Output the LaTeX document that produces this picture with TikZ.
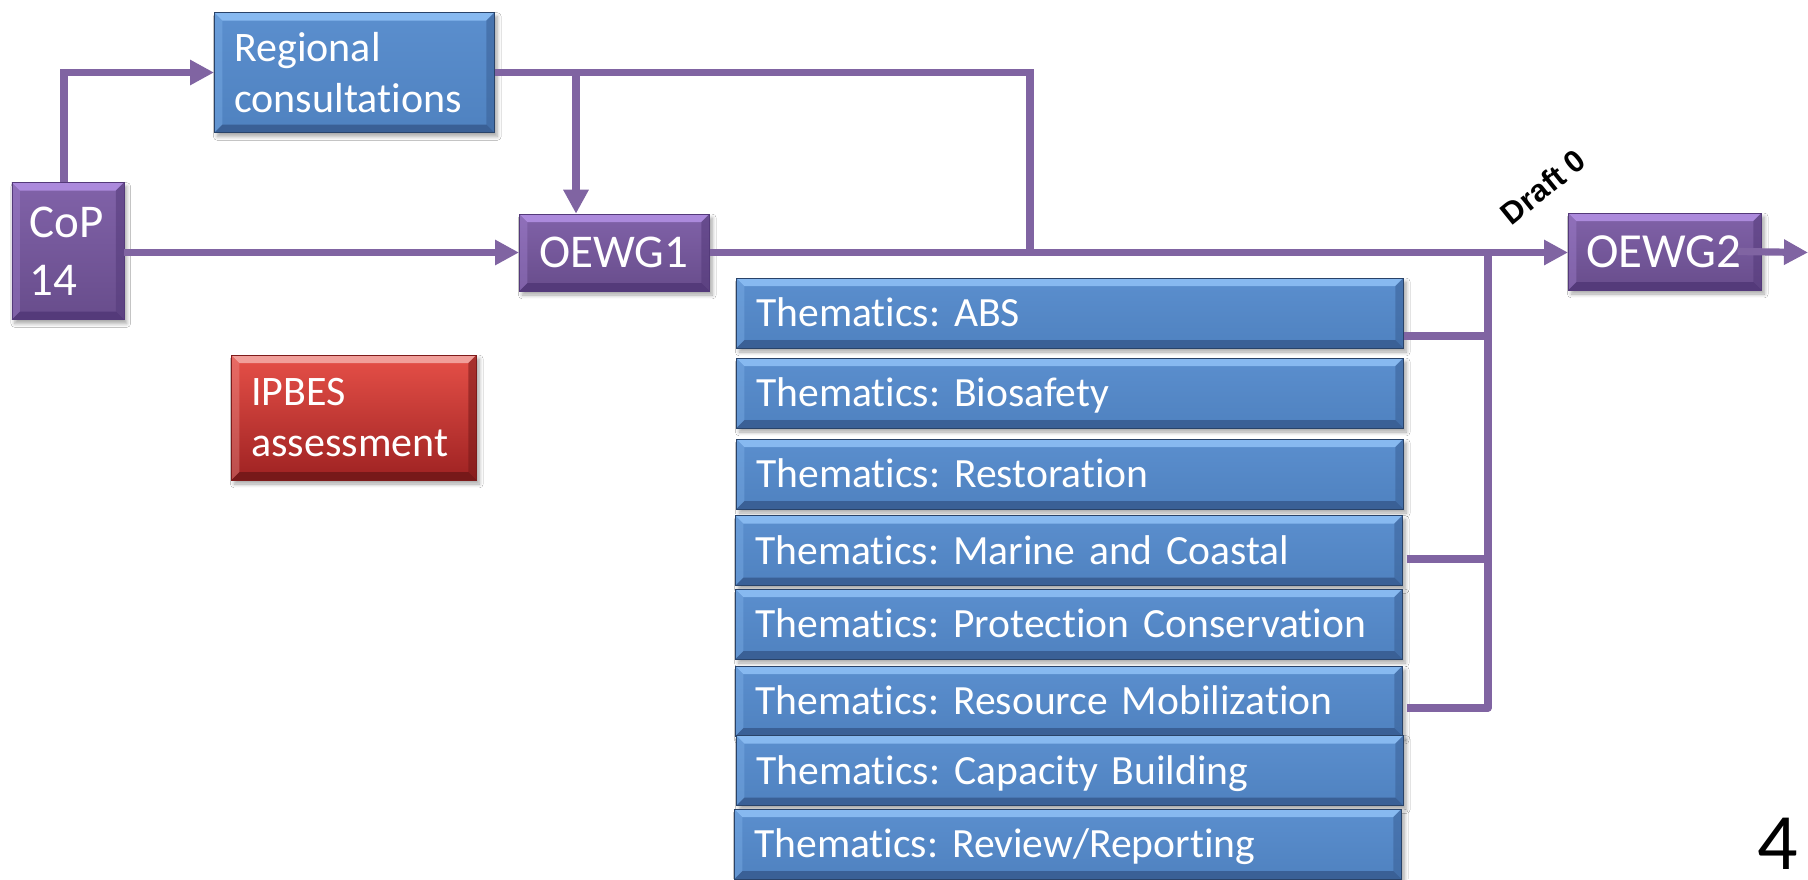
\documentclass[tikz,border=0pt]{standalone}
\usepackage{fontspec}
\setmainfont{Carlito}[Ligatures=CommonOff]
\newfontfamily\arialfont{Liberation Sans}
\usetikzlibrary{arrows.meta,shadows.blur}
\frenchspacing

\definecolor{bluef}{RGB}{84,138,204}
\definecolor{bluel}{RGB}{135,185,240}
\definecolor{blued}{RGB}{58,96,150}
\definecolor{purf}{RGB}{122,90,164}
\definecolor{purl}{RGB}{172,138,220}
\definecolor{purd}{RGB}{84,58,122}
\definecolor{redt}{RGB}{230,80,72}
\definecolor{redb}{RGB}{158,34,34}
\definecolor{linec}{RGB}{128,100,162}

\newcommand{\bevelpic}[2]{%
  \fill[#1] (path picture bounding box.north west) -- (path picture bounding box.north east)
    -- ([shift={(-4pt,-4pt)}]path picture bounding box.north east)
    -- ([shift={(4pt,-4pt)}]path picture bounding box.north west) -- cycle;
  \fill[#2] (path picture bounding box.south west) -- (path picture bounding box.south east)
    -- ([shift={(-4pt,4pt)}]path picture bounding box.south east)
    -- ([shift={(4pt,4pt)}]path picture bounding box.south west) -- cycle;
  \fill[#2, opacity=0.55] (path picture bounding box.north east) -- (path picture bounding box.south east)
    -- ([shift={(-4pt,4pt)}]path picture bounding box.south east)
    -- ([shift={(-4pt,-4pt)}]path picture bounding box.north east) -- cycle;
  \fill[#1, opacity=0.35] (path picture bounding box.north west) -- (path picture bounding box.south west)
    -- ([shift={(4pt,4pt)}]path picture bounding box.south west)
    -- ([shift={(4pt,-4pt)}]path picture bounding box.north west) -- cycle;
}

\tikzset{
  boxbase/.style={rectangle, anchor=west, text=white, align=left, inner xsep=10pt, inner ysep=0pt,
    blur shadow={shadow xshift=1.5pt, shadow yshift=-2pt, shadow blur steps=6, shadow opacity=35}},
  bluebox/.style={boxbase, top color=bluef!96!white, bottom color=bluef!94!black,
    draw=blued!70!black, line width=0.3pt, path picture={\bevelpic{bluel}{blued}}},
  purbox/.style={boxbase, top color=purf!95!white, bottom color=purf!85!black,
    draw=purd, line width=0.3pt, path picture={\bevelpic{purl}{purd}}},
  redbox/.style={boxbase, top color=redt, bottom color=redb,
    draw=redb!80!black, line width=0.3pt, path picture={\bevelpic{redt!55!white}{redb!75!black}}},
  thbox/.style={bluebox, minimum width=333.5pt, minimum height=35pt, text width=313.5pt,
    text height=13.5pt, text depth=0pt, font=\fontsize{20.8}{25.5}\selectfont},
  midfont/.style={font=\fontsize{21}{25.5}\selectfont},
  bigfont/.style={font=\fontsize{23.5}{29}\selectfont},
  conn/.style={draw=linec, line width=3.6pt},
  arr/.style={conn, -{Triangle[length=12pt,width=12pt]}},
}

\begin{document}
\begin{tikzpicture}[x=0.5pt, y=-0.5pt]
\useasboundingbox (0,0) rectangle (1808,879);
\fill[white] (0,0) rectangle (1808,879);

% main nodes
\node[purbox, bigfont, minimum width=56pt, minimum height=68.5pt, text width=38pt, inner xsep=9pt] (cop) at (11.5,251) {CoP\\14};
\node[bluebox, midfont, minimum width=140pt, minimum height=60pt, text width=120pt] (rc) at (214,72.5) {Regional\\consultations};
\node[purbox, bigfont, minimum width=95pt, minimum height=38.5pt, text width=75pt, text height=15pt, text depth=0pt] (o1) at (519,252.5) {OEWG1};
\node[purbox, font=\fontsize{24.5}{29}\selectfont, minimum width=96.5pt, minimum height=38.5pt, text width=78.5pt, inner xsep=9pt, text height=15.5pt, text depth=0pt] (o2) at (1568,251.5) {OEWG2};
\node[redbox, midfont, minimum width=122.5pt, minimum height=62.5pt, text width=102.5pt] (ip) at (231,417.5) {IPBES\\assessment};

% thematics
\node[thbox] (t1) at (736,313) {Thematics: ABS};
\node[thbox] (t2) at (736,393) {Thematics: Biosafety};
\node[thbox] (t3) at (736,474) {Thematics: Restoration};
\node[thbox] (t4) at (735,550.5) {Thematics: Marine and Coastal};
\node[thbox] (t5) at (735,624) {Thematics: Protection Conservation};
\node[thbox] (t6) at (735,701) {Thematics: Resource Mobilization};
\node[thbox] (t7) at (736,770.5) {Thematics: Capacity Building};
\node[thbox] (t8) at (734,844) {Thematics: Review/Reporting};

% coordinates
\coordinate (cu) at (64,72.5);
\coordinate (rb) at (576,72.5);
\coordinate (rk) at (1030,72.5);
\coordinate (bt) at (1488,252.5);
\coordinate (j1) at (1488,336);
\coordinate (j4) at (1488,559);
\coordinate (j6) at (1488,708);
\coordinate (out) at (1808,252.5);

% connectors
\draw[arr] (cop.north -| cu) |- (rc.west);
\draw[arr] (cop.east |- o1.west) -- (o1.west);
\draw[conn] (rc.east) -- (rk) -- (rk |- o1.east);
\draw[arr] (rb) -- (rb |- o1.north);
\draw[arr] (o1.east) -- (o2.west |- o1.east);
\draw[conn, line join=round] (bt) -- (j6) -- ([xshift=2pt]j6 -| t6.east);
\draw[conn] (t1.east |- j1) -- (j1);
\draw[conn] ([xshift=2pt]t4.east |- j4) -- (j4);
\draw[arr] ([xshift=-12pt]o2.east) -- (out);

% labels
\node[rotate=39, font=\arialfont\bfseries\fontsize{15.5}{18}\selectfont, text=black, inner sep=0pt] (d0) at (1543,187) {Draft 0};
\node[font=\fontsize{40}{44}\selectfont, text=black, inner sep=0pt] (pg) at (1778,844) {4};
\end{tikzpicture}
\end{document}
